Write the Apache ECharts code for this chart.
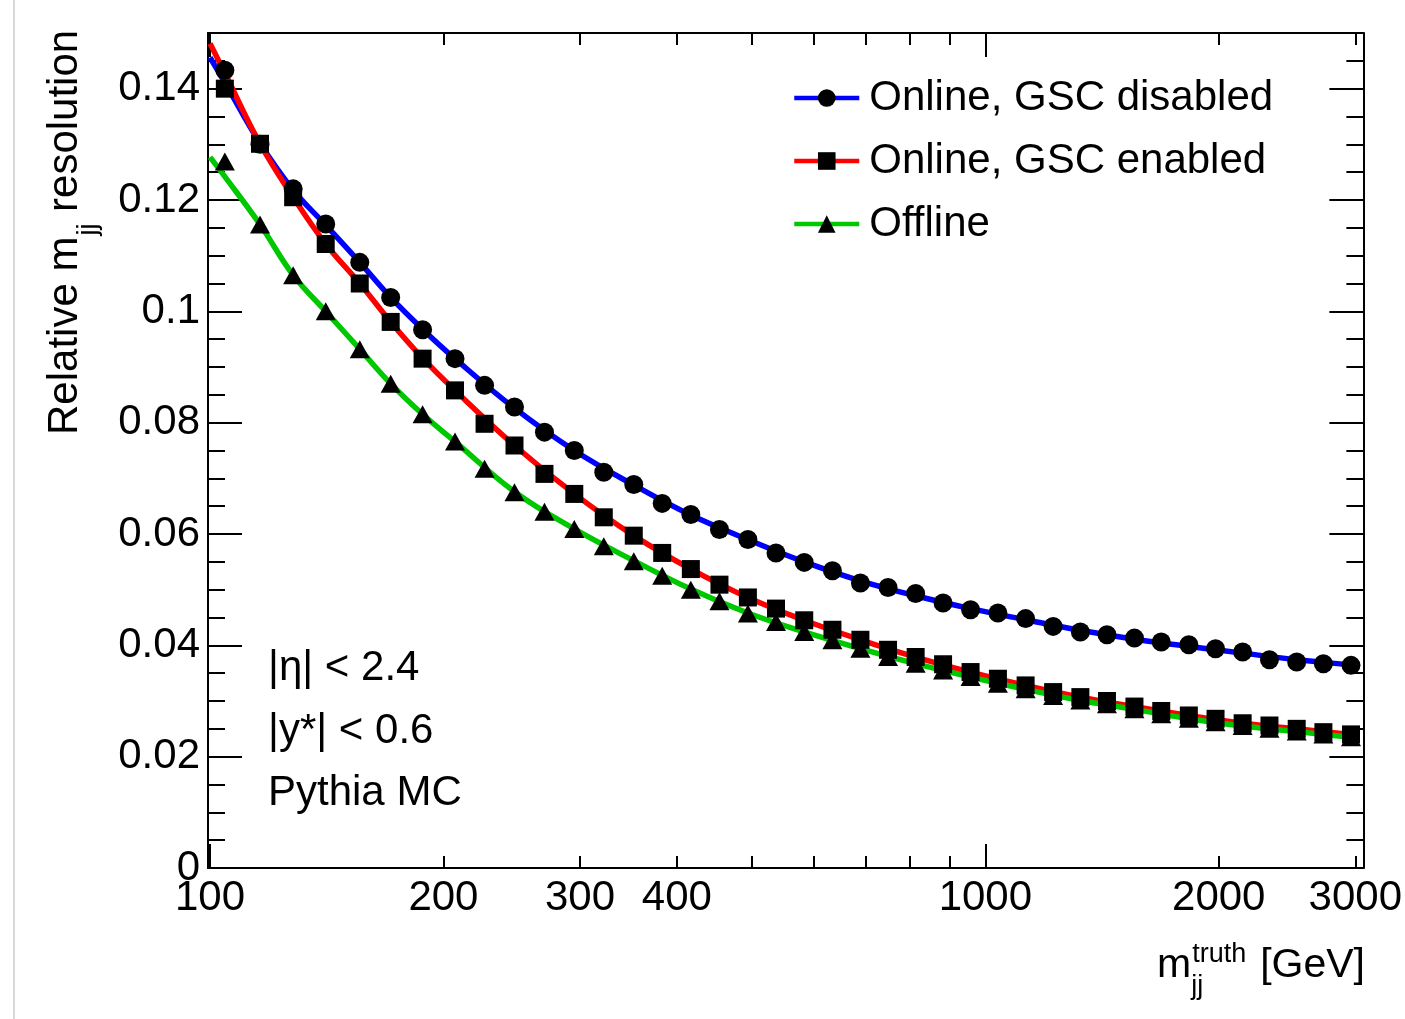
<!DOCTYPE html>
<html>
<head>
<meta charset="utf-8">
<title>Relative mjj resolution</title>
<script src="https://cdn.jsdelivr.net/npm/echarts@6/dist/echarts.min.js"></script>
<style>
  html, body { margin: 0; padding: 0; background: #ffffff; }
  #chart { width: 1405px; height: 1019px; }
</style>
</head>
<body>
<div id="chart"></div>
<script>
// Dijet mass bin centres [GeV]
const massPoints = [104.5, 116, 128, 141, 156, 171, 188, 207, 226, 247, 270, 295, 322, 352, 383, 417,
  454, 494, 537, 584, 635, 690, 749, 813, 882, 957, 1038, 1127, 1223, 1326, 1435, 1557, 1686, 1830,
  1981, 2147, 2325, 2521, 2729, 2962];

// Relative mjj resolution per bin
const gscDisabled = [0.1433, 0.1300, 0.1220, 0.1157, 0.1088, 0.1025, 0.0967, 0.0915, 0.0867, 0.0828,
  0.0783, 0.0750, 0.0711, 0.0689, 0.0655, 0.0635, 0.0608, 0.0590, 0.0566, 0.0549, 0.0534, 0.0512,
  0.0504, 0.0493, 0.0476, 0.0464, 0.0458, 0.0448, 0.0434, 0.0424, 0.0419, 0.0413, 0.0406, 0.0401,
  0.0394, 0.0388, 0.0374, 0.0370, 0.0367, 0.0364];
const gscEnabled = [0.1400, 0.1301, 0.1205, 0.1121, 0.1050, 0.0981, 0.0915, 0.0858, 0.0798, 0.0759,
  0.0708, 0.0672, 0.0630, 0.0597, 0.0566, 0.0537, 0.0509, 0.0486, 0.0466, 0.0445, 0.0428, 0.0410,
  0.0392, 0.0379, 0.0366, 0.0352, 0.0340, 0.0328, 0.0316, 0.0307, 0.0300, 0.0290, 0.0282, 0.0274,
  0.0268, 0.0260, 0.0256, 0.0250, 0.0244, 0.0240];
const offline = [0.1269, 0.1156, 0.1065, 0.1000, 0.0932, 0.0870, 0.0815, 0.0766, 0.0717, 0.0675,
  0.0640, 0.0609, 0.0578, 0.0551, 0.0525, 0.0500, 0.0479, 0.0457, 0.0442, 0.0424, 0.0409, 0.0394,
  0.0379, 0.0367, 0.0355, 0.0343, 0.0331, 0.0321, 0.0309, 0.0301, 0.0294, 0.0285, 0.0276, 0.0268,
  0.0262, 0.0255, 0.0250, 0.0245, 0.0240, 0.0235];

// Fitted resolution curves, sampled along the fit range
const curveMass = [100, 104.5, 116, 128, 141, 156, 171, 188, 207, 247, 295, 352, 417, 494, 584, 690,
  813, 957, 1127, 1326, 1557, 1830, 2147, 2521, 2962, 3020];
const fitDisabled = [0.1456, 0.1411, 0.1302, 0.1218, 0.1155, 0.1088, 0.1025, 0.0968, 0.0915, 0.0826,
  0.0750, 0.0688, 0.0634, 0.0590, 0.0550, 0.0516, 0.0489, 0.0466, 0.0446, 0.0427, 0.0411, 0.0398,
  0.0386, 0.0374, 0.0365, 0.0364];
const fitEnabled = [0.1481, 0.1428, 0.1301, 0.1205, 0.1121, 0.1050, 0.0981, 0.0916, 0.0858, 0.0759,
  0.0672, 0.0597, 0.0537, 0.0486, 0.0445, 0.0410, 0.0379, 0.0352, 0.0328, 0.0307, 0.0290, 0.0274,
  0.0260, 0.0250, 0.0240, 0.0239];
const fitOffline = [0.1277, 0.1242, 0.1156, 0.1065, 0.1000, 0.0932, 0.0870, 0.0815, 0.0766, 0.0676,
  0.0609, 0.0552, 0.0501, 0.0458, 0.0424, 0.0394, 0.0367, 0.0343, 0.0321, 0.0301, 0.0285, 0.0268,
  0.0255, 0.0245, 0.0235, 0.0234];

// Axis ticks and labels
const xLabelValues = [100, 200, 300, 400, 1000, 2000, 3000];
const xMajorTicks = [100, 1000];
const xMinorTicks = [200, 300, 400, 500, 600, 700, 800, 900, 2000, 3000];
const yLabelValues = [0, 0.02, 0.04, 0.06, 0.08, 0.1, 0.12, 0.14];
const yMinorTicks = [0.005, 0.01, 0.015, 0.025, 0.03, 0.035, 0.045, 0.05, 0.055, 0.065, 0.07, 0.075,
  0.085, 0.09, 0.095, 0.105, 0.11, 0.115, 0.125, 0.13, 0.135, 0.145];

const seriesNames = ['Online, GSC disabled', 'Online, GSC enabled', 'Offline'];

const FONT = '"Liberation Sans", Arial, Helvetica, sans-serif';
const LABEL_SIZE = 42;
const X_MIN = 99.4, X_MAX = 3073;
const Y_MIN = 0, Y_MAX = 0.15;

const measureCtx = document.createElement('canvas').getContext('2d');
function textWidth(str, size) {
  measureCtx.font = size + 'px ' + FONT;
  return measureCtx.measureText(str).width;
}

function xAxisDef(position, tickValues, tickLength, withLabels, withLine) {
  return {
    type: 'log', logBase: 10, min: X_MIN, max: X_MAX, position: position,
    axisLine: { show: withLine, onZero: false, lineStyle: { color: '#000', width: 2 } },
    axisTick: { show: true, inside: true, length: tickLength, customValues: tickValues,
      lineStyle: { color: '#000', width: 2 } },
    axisLabel: withLabels ? {
      show: true, customValues: xLabelValues, margin: 9, color: '#000',
      fontFamily: FONT, fontSize: LABEL_SIZE, formatter: v => String(Math.round(v))
    } : { show: false },
    splitLine: { show: false }, minorTick: { show: false }, minorSplitLine: { show: false }
  };
}
function yAxisDef(position, tickValues, tickLength, withLabels, withLine) {
  return {
    type: 'value', min: Y_MIN, max: Y_MAX, position: position,
    axisLine: { show: withLine, onZero: false, lineStyle: { color: '#000', width: 2 } },
    axisTick: { show: true, inside: true, length: tickLength, customValues: tickValues,
      lineStyle: { color: '#000', width: 2 } },
    axisLabel: withLabels ? {
      show: true, customValues: yLabelValues, margin: 8, color: '#000',
      fontFamily: FONT, fontSize: LABEL_SIZE, formatter: v => String(Number(v.toFixed(3)))
    } : { show: false },
    splitLine: { show: false }
  };
}

const lineColors = ['#0000ff', '#ff0000', '#00c800'];
const markerShapes = ['circle', 'rect', 'triangle'];
const markerSizes = [19, 18, [20, 18]];
const markerValues = [gscDisabled, gscEnabled, offline];
const fitValues = [fitDisabled, fitEnabled, fitOffline];

const series = [];
// fit curves first so the legend takes its icon from them
seriesNames.forEach((name, i) => {
  series.push({
    name: name, type: 'line', xAxisIndex: 0, yAxisIndex: 0,
    data: curveMass.map((m, k) => [m, fitValues[i][k]]),
    smooth: 0.4, showSymbol: false, symbol: markerShapes[i], symbolSize: 18,
    itemStyle: { color: '#000' },
    lineStyle: { color: lineColors[i], width: 5.5 },
    z: 2 + i * 0.1, silent: true
  });
});
seriesNames.forEach((name, i) => {
  series.push({
    name: name, type: 'scatter', xAxisIndex: 0, yAxisIndex: 0,
    data: massPoints.map((m, k) => [m, markerValues[i][k]]),
    symbol: markerShapes[i], symbolSize: markerSizes[i],
    itemStyle: { color: '#000', opacity: 1 },
    z: 5, silent: true
  });
});

// axis titles with sub- and superscripts
const yT = 42, ySub = 27;
const wRelM = textWidth('Relative m', yT);
const wJJy = textWidth('jj', ySub);
const wM = textWidth('m', 41);

const option = {
  animation: false,
  backgroundColor: '#ffffff',
  grid: { left: 208, right: 41, top: 33, bottom: 151, containLabel: false },
  xAxis: [
    xAxisDef('bottom', xMajorTicks, 24, true, true),
    xAxisDef('bottom', xMinorTicks, 12, false, false),
    xAxisDef('top', xMajorTicks, 24, false, true),
    xAxisDef('top', xMinorTicks, 12, false, false)
  ],
  yAxis: [
    yAxisDef('left', yLabelValues, 34, true, true),
    yAxisDef('left', yMinorTicks, 17, false, false),
    yAxisDef('right', yLabelValues, 34, false, true),
    yAxisDef('right', yMinorTicks, 17, false, false)
  ],
  legend: {
    data: seriesNames, orient: 'vertical', left: 792, top: 77, padding: 0,
    itemWidth: 65, itemHeight: 22, itemGap: 21,
    lineStyle: { width: 4.5 },
    textStyle: { color: '#000', fontFamily: FONT, fontSize: 42, padding: [0, 0, 0, 5] },
    selectedMode: false
  },
  series: series,
  graphic: [
    { type: 'rect', silent: true, shape: { x: 13, y: 0, width: 2, height: 1019 }, style: { fill: '#d9d9d9' } },
    {
      type: 'group', x: 65, y: 435, rotation: Math.PI / 2, silent: true,
      children: [
        { type: 'text', x: 0, y: 0, style: { text: 'Relative m', font: yT + 'px ' + FONT, fill: '#000', align: 'left', verticalAlign: 'middle' } },
        { type: 'text', x: wRelM + 1, y: 24, style: { text: 'jj', font: ySub + 'px ' + FONT, fill: '#000', align: 'left', verticalAlign: 'middle' } },
        { type: 'text', x: wRelM + 1 + wJJy, y: 0, style: { text: ' resolution', font: yT + 'px ' + FONT, fill: '#000', align: 'left', verticalAlign: 'middle' } }
      ]
    },
    { type: 'text', silent: true, x: 1157, y: 966, style: { text: 'm', font: '41px ' + FONT, fill: '#000', align: 'left', verticalAlign: 'middle' } },
    { type: 'text', silent: true, x: 1157 + wM + 1, y: 955, style: { text: 'truth', font: '27px ' + FONT, fill: '#000', align: 'left', verticalAlign: 'middle' } },
    { type: 'text', silent: true, x: 1157 + wM, y: 987, style: { text: 'jj', font: '27px ' + FONT, fill: '#000', align: 'left', verticalAlign: 'middle' } },
    { type: 'text', silent: true, x: 1365, y: 966, style: { text: '[GeV]', font: '41px ' + FONT, fill: '#000', align: 'right', verticalAlign: 'middle' } },
    { type: 'text', silent: true, x: 268, y: 668, style: { text: '|η| < 2.4', font: '42px ' + FONT, fill: '#000', align: 'left', verticalAlign: 'middle' } },
    { type: 'text', silent: true, x: 268, y: 731, style: { text: '|y*| < 0.6', font: '42px ' + FONT, fill: '#000', align: 'left', verticalAlign: 'middle' } },
    { type: 'text', silent: true, x: 268, y: 793, style: { text: 'Pythia MC', font: '42px ' + FONT, fill: '#000', align: 'left', verticalAlign: 'middle' } }
  ]
};

const chart = echarts.init(document.getElementById('chart'), null, { renderer: 'canvas' });
chart.setOption(option);
</script>
</body>
</html>
